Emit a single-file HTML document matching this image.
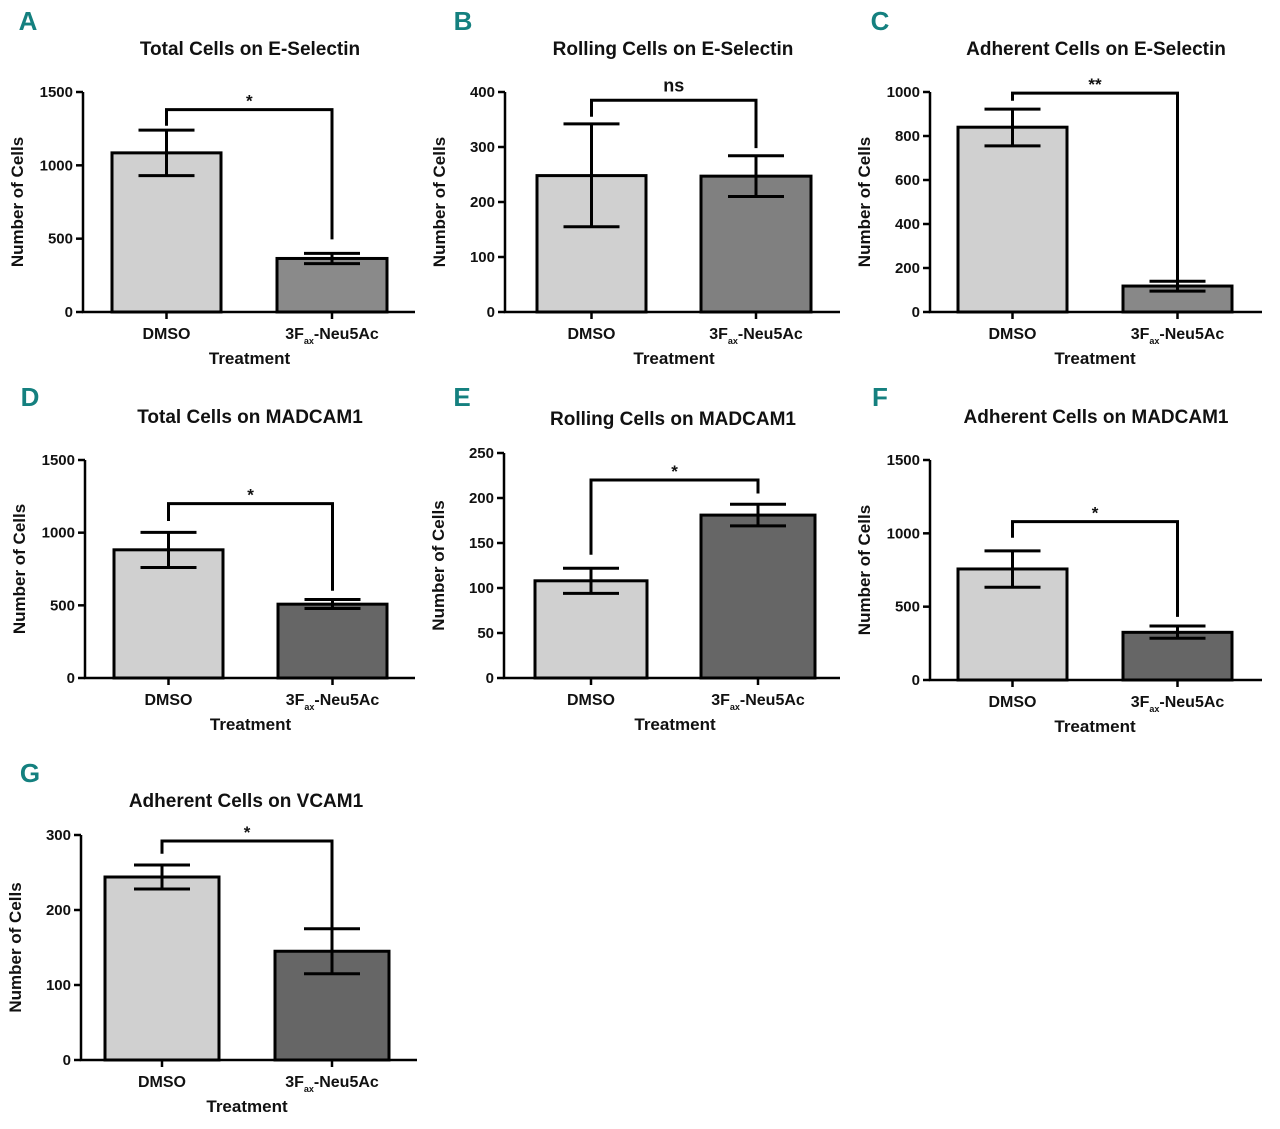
<!DOCTYPE html>
<html><head><meta charset="utf-8"><style>
body{margin:0;background:#fff}
svg{display:block;font-family:"Liberation Sans",sans-serif}
</style></head><body>
<svg id="fig" width="1280" height="1129"></svg>
<script>
const letters=["A","B","C","D","E","F","G"];
const titles=["Total Cells on E-Selectin","Rolling Cells on E-Selectin","Adherent Cells on E-Selectin","Total Cells on MADCAM1","Rolling Cells on MADCAM1","Adherent Cells on MADCAM1","Adherent Cells on VCAM1"];
const categories=["DMSO","3F_ax-Neu5Ac"];
const means=[[1085,365],[248,247],[840,118],[882,508],[108,181],[757,325],[244,145]];
const errLo=[[930,330],[155,210],[755,95],[760,478],[94,169],[632,285],[228,115]];
const errHi=[[1240,400],[342,284],[922,140],[1002,540],[122,193],[880,368],[260,175]];
const yMaxes=[1500,400,1000,1500,250,1500,300];
const tickSteps=[500,100,200,500,50,500,100];
const sigLabels=["*","ns","**","*","*","*","*"];
const bracketLevels=[1380,385,995,1200,220,1080,292];
const bracketDrops=[[1270,495],[355,298],[960,145],[1080,600],[137,205],[970,430],[275,160]];
// layout (positions, not data)
const L=[
 {ax:83,top:92,bot:312,xe:415,b:[[112,221],[277,387]],lx:28,ly:20,tx:250,ty:48,dark:"#8a8a8a"},
 {ax:505,top:92,bot:312,xe:840,b:[[537,646],[701,811]],lx:463,ly:20,tx:673,ty:48,dark:"#808080"},
 {ax:930,top:92,bot:312,xe:1262,b:[[958,1067],[1123,1232]],lx:880,ly:20,tx:1096,ty:48,dark:"#888888"},
 {ax:85,top:460,bot:678,xe:415,b:[[114,223],[278,387]],lx:30,ly:396,tx:250,ty:416,dark:"#666666"},
 {ax:504,top:453,bot:678,xe:840,b:[[535,647],[701,815]],lx:462,ly:396,tx:673,ty:418,dark:"#666666"},
 {ax:930,top:460,bot:680,xe:1262,b:[[958,1067],[1123,1232]],lx:880,ly:396,tx:1096,ty:416,dark:"#666666"},
 {ax:81,top:835,bot:1060,xe:417,b:[[105,219],[275,389]],lx:30,ly:772,tx:246,ty:800,dark:"#666666"}
];
const NS="http://www.w3.org/2000/svg";
const svg=document.getElementById("fig");
function mk(tag,attrs,parent,text){const e=document.createElementNS(NS,tag);for(const k in attrs)e.setAttribute(k,attrs[k]);if(text!=null)e.textContent=text;(parent||svg).appendChild(e);return e;}
for(let p=0;p<7;p++){
 const g=L[p];
 const grp=mk("g",{});
 
 
 const y=v=>g.bot-(v/yMaxes[p])*(g.bot-g.top);
 const lt=mk("text",{x:g.lx,y:g.ly+10,"font-size":26,"font-weight":"bold",fill:"#14807f","text-anchor":"middle","font-family":"Liberation Sans Narrow, Liberation Sans, sans-serif"},grp,letters[p]);
 
 const tt=mk("text",{x:g.tx,y:g.ty+7,"font-size":19,"font-weight":"bold","text-anchor":"middle",fill:"#111"},grp,titles[p]);
 
 for(let i=0;i<2;i++){
  const [x0,x1]=g.b[i];const cx=(x0+x1)/2;
  const r=mk("rect",{x:x0,y:y(means[p][i]),width:x1-x0,height:g.bot-y(means[p][i]),fill:i?g.dark:"#d0d0d0",stroke:"#000","stroke-width":3},grp);
  
  const eb=mk("path",{d:`M${cx},${y(errLo[p][i])}V${y(errHi[p][i])}M${cx-28},${y(errLo[p][i])}h56M${cx-28},${y(errHi[p][i])}h56`,stroke:"#000","stroke-width":3,fill:"none"},grp);
  
  mk("line",{x1:cx,x2:cx,y1:g.bot,y2:g.bot+7,stroke:"#000","stroke-width":2.5},grp);
  const cl=mk("text",{x:cx,y:g.bot+27,"font-size":16,"font-weight":"bold","text-anchor":"middle",fill:"#111"},grp);
  
  if(i==0)cl.textContent=categories[0];
  else{cl.appendChild(document.createTextNode("3F"));mk("tspan",{"font-size":9,dy:5},cl,"ax");mk("tspan",{dy:-5},cl,"-Neu5Ac");}
 }
 const axp=mk("path",{d:`M${g.ax},${g.top}V${g.bot}H${g.xe}`,stroke:"#000","stroke-width":2.5,fill:"none"},grp);
 
 for(let v=0;v<=yMaxes[p]+1e-9;v+=tickSteps[p]){
  mk("line",{x1:g.ax-7,x2:g.ax,y1:y(v),y2:y(v),stroke:"#000","stroke-width":2.5},grp);
  const tl=mk("text",{x:g.ax-10,y:y(v)+5,"font-size":15,"font-weight":"bold","text-anchor":"end",fill:"#111"},grp,String(v));
  
 }
 const cy=(g.top+g.bot)/2, yx=g.ax-60;
 const yl=mk("text",{x:yx,y:cy,"font-size":17,"font-weight":"bold","text-anchor":"middle",fill:"#111",transform:`rotate(-90 ${yx} ${cy})`},grp,"Number of Cells");
 
 const xl=mk("text",{x:(g.b[0][0]+g.b[1][1])/2,y:g.bot+52,"font-size":17,"font-weight":"bold","text-anchor":"middle",fill:"#111"},grp,"Treatment");
 
 const c0=(g.b[0][0]+g.b[0][1])/2,c1=(g.b[1][0]+g.b[1][1])/2,by=y(bracketLevels[p]);
 const br=mk("path",{d:`M${c0},${y(bracketDrops[p][0])}V${by}H${c1}V${y(bracketDrops[p][1])}`,stroke:"#000","stroke-width":3,fill:"none"},grp);
 
 const sl=mk("text",{x:(c0+c1)/2,y:by-(sigLabels[p]=="ns"?9:3),"font-size":sigLabels[p]=="ns"?18:17,"font-weight":"bold","text-anchor":"middle",fill:"#111"},grp,sigLabels[p]);
 
}
</script>
</body></html>
